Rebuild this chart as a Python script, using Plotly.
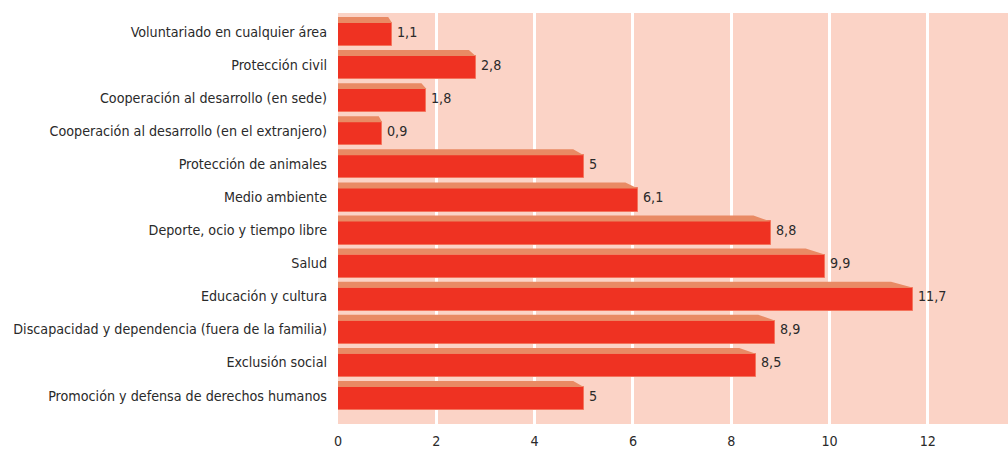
import plotly.graph_objects as go

categories = [
    "Promoción y defensa de derechos humanos",
    "Exclusión social",
    "Discapacidad y dependencia (fuera de la familia)",
    "Educación y cultura",
    "Salud",
    "Deporte, ocio y tiempo libre",
    "Medio ambiente",
    "Protección de animales",
    "Cooperación al desarrollo (en el extranjero)",
    "Cooperación al desarrollo (en sede)",
    "Protección civil",
    "Voluntariado en cualquier área",
]
values = [5, 8.5, 8.9, 11.7, 9.9, 8.8, 6.1, 5, 0.9, 1.8, 2.8, 1.1]
x_ticks = [0, 2, 4, 6, 8, 10, 12]

FONT = "Liberation Sans Narrow, DejaVu Sans Condensed, Arial Narrow, sans-serif"
FRONT = "#ef3222"
TOP = "#e98a64"
BG = "#fbd3c6"
FS = 14.2

pos = list(range(len(categories)))
front_lo, front_hi, top_hi = -0.44, 0.26, 0.44

fig = go.Figure()

# front face of each bar
fig.add_trace(go.Bar(
    y=[p + (front_lo + front_hi) / 2 for p in pos],
    x=values,
    orientation="h",
    width=front_hi - front_lo,
    marker=dict(color=FRONT, line=dict(color="#f4735c", width=1)),
    hoverinfo="skip",
    showlegend=False,
))

# top (3D) face of each bar, derived from values
px_, py_ = [], []
for p, v in zip(pos, values):
    s = 0.04 + 0.035 * v
    px_ += [0, v, v - s, 0, 0, None]
    py_ += [p + front_hi, p + front_hi, p + top_hi, p + top_hi, p + front_hi, None]
fig.add_trace(go.Scatter(
    x=px_, y=py_, mode="lines", fill="toself", fillcolor=TOP,
    line=dict(width=0, color=TOP), hoverinfo="skip", showlegend=False,
))

for p, v in zip(pos, values):
    txt = ("%g" % v).replace(".", ",")
    fig.add_annotation(x=v, y=p, text=txt, showarrow=False, xanchor="left",
                       xshift=3, font=dict(family=FONT, size=FS, color="#2a2a2a"))

fig.update_layout(
    width=1008, height=452,
    margin=dict(l=338, r=0, t=13, b=28),
    plot_bgcolor=BG, paper_bgcolor="white",
    font=dict(family=FONT, size=FS, color="#2a2a2a"),
    bargap=0,
)
fig.update_xaxes(range=[0, 13.63], tickvals=x_ticks, ticktext=[str(t) for t in x_ticks],
                 showgrid=True, gridcolor="white", gridwidth=3, zeroline=False,
                 showline=False, ticks="", tickfont=dict(size=FS), ticklabelstandoff=7)
fig.update_yaxes(range=[-0.86, 11.56], tickvals=pos, ticktext=categories,
                 showgrid=False, zeroline=False, showline=False, ticks="",
                 ticklabelstandoff=10, tickfont=dict(size=FS))

fig.write_html("out.html", config={"displayModeBar": False},
               post_script="document.body.style.margin='0';document.body.style.overflow='hidden';")
